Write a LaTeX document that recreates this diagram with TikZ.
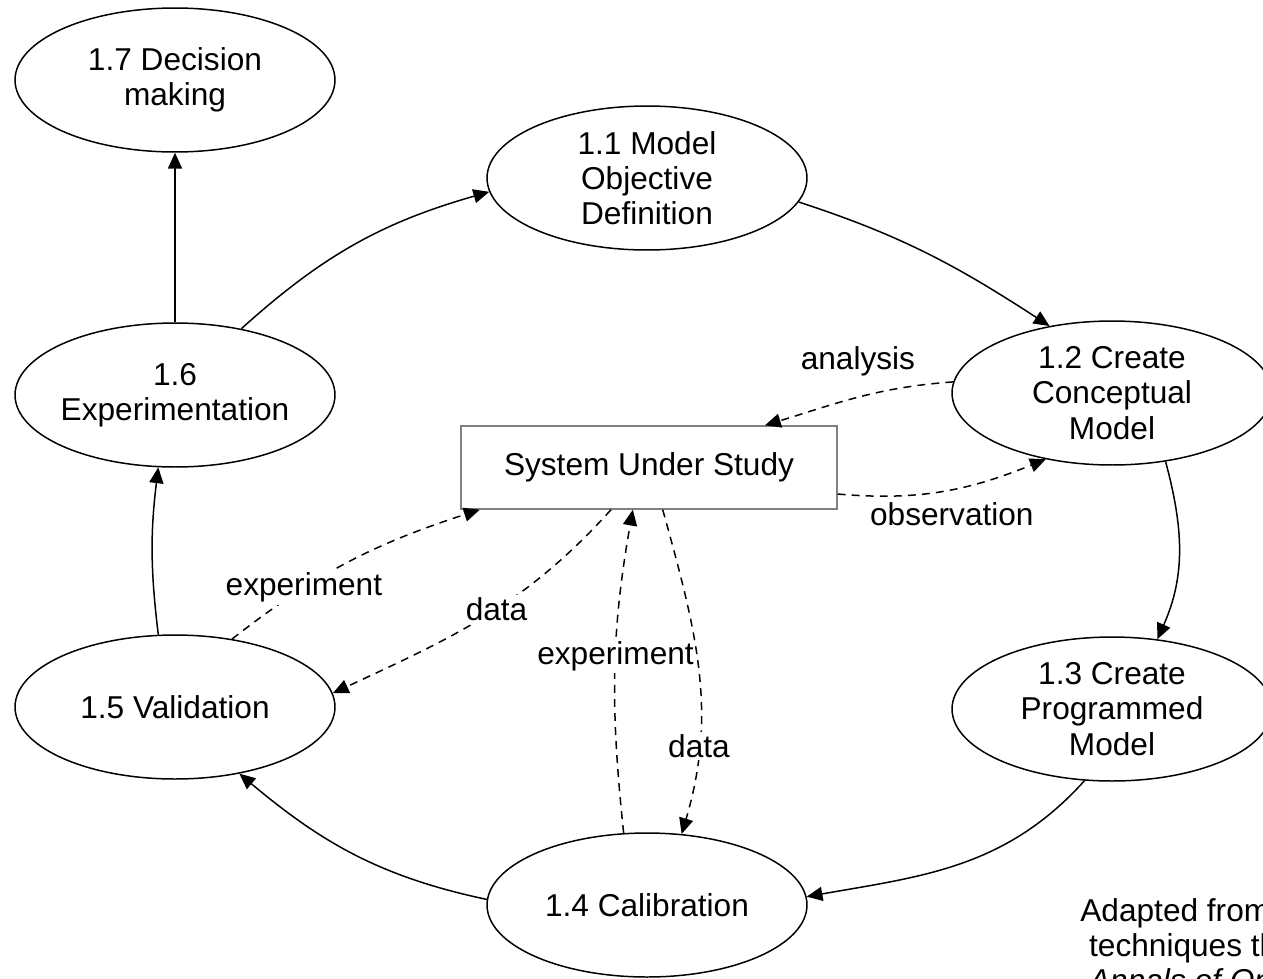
\documentclass[tikz,border=0pt]{standalone}
\usepackage{fontspec}
\setmainfont{Liberation Sans}
\usetikzlibrary{arrows.meta,shapes.geometric}
\tikzset{
  proc/.style={ellipse, draw, line width=0.85pt, minimum width=6.4cm, minimum height=2.88cm, inner sep=0pt},
  ptext/.style={align=center, font=\fontsize{18}{20}\selectfont},
  sysbox/.style={rectangle, draw=black!50, line width=0.8pt, minimum width=7.52cm, minimum height=1.66cm, inner sep=0pt, font=\fontsize{18}{20}\selectfont},
  flow/.style={line width=0.85pt, -{Triangle[length=9pt,width=8pt]}},
  dflow/.style={flow, dash pattern=on 4.5pt off 3.5pt},
  lbl/.style={fill=white, inner sep=1.5pt, font=\fontsize{18}{20}\selectfont},
  srctext/.style={anchor=north west, inner sep=0pt, align=left, font=\fontsize{18}{20}\selectfont}
}
\begin{document}
\begin{tikzpicture}[x=0.02cm,y=0.02cm]
\useasboundingbox (0,0) rectangle (1263,-978);
\clip (0,0) rectangle (1263,-978);
\node[proc,label={[ptext]center:{1.7 Decision\\making}}] (e17) at (175,-80) {};
\node[proc,label={[ptext]center:{1.1 Model\\Objective\\Definition}}] (e11) at (647,-178) {};
\node[proc,label={[ptext]center:{1.2 Create\\Conceptual\\Model}}] (e12) at (1112,-393) {};
\node[proc,label={[ptext]center:{1.3 Create\\Programmed\\Model}}] (e13) at (1112,-709) {};
\node[proc,label={[ptext]center:{1.4 Calibration}}] (e14) at (647,-905) {};
\node[proc,label={[ptext]center:{1.5 Validation}}] (e15) at (175,-707) {};
\node[proc,label={[ptext]center:{1.6\\Experimentation}}] (e16) at (175,-395) {};
\node[sysbox] (sys) at (649,-467.5) {System Under Study};

\draw[flow] (e16.north) -- (e17.south);
\draw[flow] (e16.45) to[out=42,in=196] (e11.185);
\draw[flow] (e11.-9) to[out=-18,in=147] (e12.133);
\draw[flow] (e12.-52) to[out=-75,in=66] (e13.57);
\draw[flow] (e13.249) to[out=228,in=10] (e14.3);
\draw[flow] (e14.178) to[out=168,in=-40] (e15.-46);
\draw[flow] (e15.103) to[out=97,in=263] (e16.257);

\draw[dflow] (e12.176) to[out=184,in=17] node[lbl,pos=0.5,yshift=0.72cm]{analysis} (sys.20.5);
\draw[dflow] (sys.-8.3) to[out=-5,in=202] node[lbl,pos=0.5,xshift=0.16cm,yshift=-0.46cm]{observation} (e12.225);
\draw[dflow] (e15.50) to[out=38,in=198] node[lbl,pos=0.3]{experiment} (sys.194.6);
\draw[dflow] (sys.228.3) to[out=228,in=25] node[lbl,pos=0.45]{data} (e15.5);
\draw[dflow] (e14.108) to[out=96,in=260] node[lbl,pos=0.55]{experiment} (sys.249);
\draw[dflow] (sys.288.6) to[out=-74.5,in=73.5] node[lbl,pos=0.74]{data} (e14.64);

\node[srctext] (src) at (1080,-898) {Adapted from Balci (1994)\\\hspace*{5pt}techniques throughout\\\hspace*{5pt}\textit{Annals of Operations Research}};
\end{tikzpicture}
\end{document}
